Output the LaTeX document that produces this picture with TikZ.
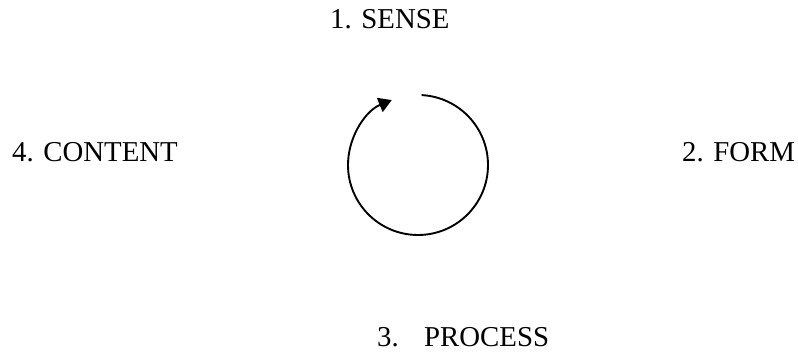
\documentclass[tikz,border=0pt]{standalone}
\usepackage{fontspec}
\setmainfont{Liberation Serif}
\usetikzlibrary{arrows.meta}
\begin{document}
\begin{tikzpicture}[x=1pt,y=1pt,
  lbl/.style={anchor=base west,inner sep=0pt,font=\fontsize{28.8}{34}\selectfont},
  cycle/.style={line width=1.9pt,-{Triangle[length=13pt,width=15pt]}}]
\useasboundingbox (0,0) rectangle (798,-355);
\node[lbl] (sense) at (330,-29) {1. SENSE};
\node[lbl] (content) at (12,-162) {4. CONTENT};
\node[lbl] (form) at (682,-162) {2. FORM};
\node[lbl] (three) at (377,-346) {3.};
\node[lbl] (process) at (424,-346) {PROCESS};
\coordinate (c) at (418,-165);
\draw[cycle] (c) ++(87:70) arc[start angle=87,end angle=-248,radius=70];
\end{tikzpicture}
\end{document}
